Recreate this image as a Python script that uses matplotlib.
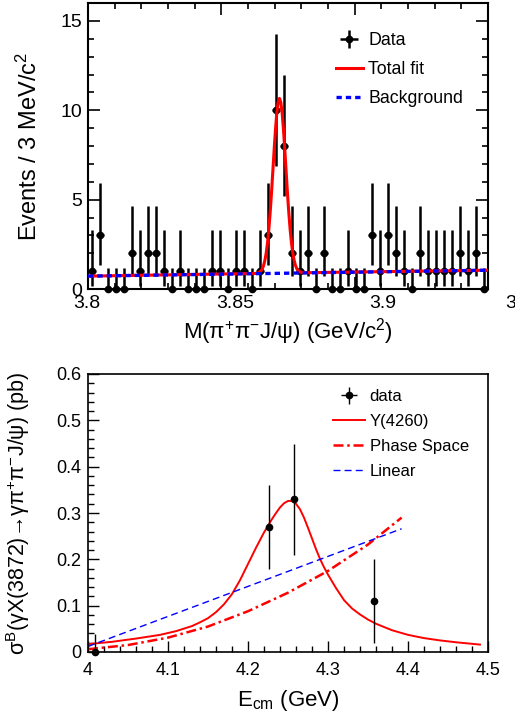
import numpy as np
import matplotlib.pyplot as plt
from matplotlib.ticker import MultipleLocator, NullFormatter
from matplotlib.transforms import blended_transform_factory

plt.rcParams['font.family'] = ['Liberation Sans', 'DejaVu Sans']
plt.rcParams['mathtext.fontset'] = 'custom'
plt.rcParams['mathtext.rm'] = 'Liberation Sans'
plt.rcParams['mathtext.it'] = 'Liberation Sans:italic'

# --- top panel: M(pi+ pi- J/psi) spectrum, 3 MeV bins from 3.80 to 3.95
mass_edges = np.linspace(3.80, 3.95, 51)
counts = [1, 3, 0, 0, 0, 2, 1, 2, 2, 1, 0, 1, 0, 0, 0, 1, 1, 0, 1, 1,
          0, 1, 3, 10, 8, 2, 1, 2, 0, 2, 0, 0, 1, 0, 0, 3, 1, 3, 2, 1,
          0, 2, 1, 1, 1, 1, 2, 1, 2, 0]
# poisson error bars, by count
err_low = {0: 0.0, 1: 0.83, 2: 1.29, 3: 1.63, 8: 2.77, 10: 3.11}
err_high = {0: 1.15, 1: 2.30, 2: 2.64, 3: 2.92, 8: 3.98, 10: 4.27}

fit_x = [3.800, 3.8628, 3.8638, 3.8648, 3.8653, 3.8658, 3.8663, 3.8668, 3.8673,
         3.8678, 3.8683, 3.8688, 3.8693, 3.8698, 3.8703, 3.8708, 3.8713, 3.8718,
         3.8723, 3.8728, 3.8733, 3.8738, 3.8743, 3.8748, 3.8753, 3.8758, 3.8763,
         3.8768, 3.8773, 3.8778, 3.8783, 3.8788, 3.8798, 3.8808, 3.950]
fit_y = [0.72, 0.87, 0.90, 1.00, 1.11, 1.29, 1.58, 1.99, 2.56,
         3.31, 4.25, 5.35, 6.56, 7.78, 8.91, 9.85, 10.45, 10.66,
         10.45, 9.85, 8.92, 7.79, 6.57, 5.36, 4.27, 3.33, 2.58,
         2.01, 1.60, 1.32, 1.14, 1.03, 0.94, 0.91, 1.05]
bkg_x = [3.80, 3.95]
bkg_y = [0.72, 1.05]

# --- bottom panel: cross section vs E_cm
ecm = [4.009, 4.226, 4.258, 4.358]
xsec = [0.0, 0.27, 0.33, 0.11]
xsec_dn = [0.0, 0.09, 0.12, 0.09]
xsec_up = [0.038, 0.09, 0.12, 0.09]

y4260_x = [4.00, 4.03, 4.06, 4.09, 4.11, 4.13, 4.14, 4.15, 4.16, 4.17,
           4.18, 4.19, 4.20, 4.21, 4.22, 4.23, 4.235, 4.24, 4.245, 4.25,
           4.255, 4.26, 4.265, 4.27, 4.275, 4.28, 4.285, 4.29, 4.295, 4.30,
           4.31, 4.32, 4.33, 4.34, 4.35, 4.36, 4.37, 4.38, 4.39, 4.40,
           4.42, 4.44, 4.46, 4.49]
y4260_y = [0.017, 0.022, 0.029, 0.037, 0.045, 0.056, 0.064, 0.073, 0.086, 0.103,
           0.125, 0.155, 0.190, 0.225, 0.258, 0.287, 0.300, 0.312, 0.321, 0.326,
           0.326, 0.320, 0.308, 0.290, 0.268, 0.245, 0.222, 0.201, 0.183, 0.167,
           0.138, 0.112, 0.094, 0.081, 0.070, 0.061, 0.054, 0.047, 0.042, 0.037,
           0.030, 0.025, 0.021, 0.016]
phsp_x = [4.00, 4.05, 4.10, 4.15, 4.20, 4.25, 4.30, 4.35, 4.392]
phsp_y = [0.006, 0.015, 0.031, 0.055, 0.088, 0.128, 0.175, 0.232, 0.290]
lin_x = [4.00, 4.392]
lin_y = [0.012, 0.266]

fig = plt.figure(figsize=(5.15, 7.11), dpi=100)
ax1 = fig.add_axes([88/515, 1-289/711, 400/515, 286/711])
ax2 = fig.add_axes([88/515, 1-652/711, 400/515, 278/711])

# top panel
centers = 0.5*(mass_edges[1:] + mass_edges[:-1])
half_bin = 0.5*(mass_edges[1] - mass_edges[0])
lo = [err_low[c] for c in counts]
hi = [err_high[c] for c in counts]
ax1.errorbar(centers, counts, xerr=half_bin, yerr=[lo, hi], fmt='o', ms=4.5,
             color='black', elinewidth=1.8, capsize=0, clip_on=False,
             label='Data', zorder=2)
ax1.plot(fit_x, fit_y, color='red', lw=2.2, label='Total fit', zorder=3)
ax1.plot(bkg_x, bkg_y, color='blue', lw=2.4, dashes=(1.6, 1.2),
         label='Background', zorder=4)

ax1.set_xlim(3.80, 3.95)
ax1.set_ylim(0, 16)
ax1.xaxis.set_major_locator(MultipleLocator(0.05))
ax1.xaxis.set_minor_locator(MultipleLocator(0.01))
ax1.yaxis.set_major_locator(MultipleLocator(5))
ax1.yaxis.set_minor_locator(MultipleLocator(1))
ax1.xaxis.set_major_formatter(NullFormatter())
ax1.tick_params(which='both', direction='in', top=True, right=True, width=1.2)
ax1.tick_params(which='major', length=8.5, labelsize=14, pad=4)
ax1.tick_params(which='minor', length=4.5)
for s in ax1.spines.values():
    s.set_linewidth(1.5)

# x tick labels sit a bit right of their ticks in the original
trans = blended_transform_factory(ax1.transData, ax1.transAxes)
for xpos, txt in zip([3.7995, 3.8551, 3.9106, 3.9635], ['3.8', '3.85', '3.9', '3.95']):
    ax1.text(xpos, -0.02, txt, transform=trans, ha='center', va='top',
             fontsize=14, clip_on=False)

ax1.set_xlabel('M(π$^{+}$π$^{-}$J/ψ) (GeV/c$^{2}$)', fontsize=16)
ax1.xaxis.set_label_coords(0.5, -0.095)
ax1.set_ylabel('Events / 3 MeV/c$^{2}$', fontsize=17)
ax1.yaxis.set_label_coords(-0.115, 0.5)

h, l = ax1.get_legend_handles_labels()
ax1.legend([h[2], h[0], h[1]], [l[2], l[0], l[1]], loc='upper left',
           bbox_to_anchor=(0.58, 0.955), frameon=False, fontsize=12.8,
           handlelength=1.5, handletextpad=0.3, labelspacing=0.68)

# bottom panel
ax2.errorbar(ecm, xsec, yerr=[xsec_dn, xsec_up], fmt='o', ms=4.5, color='black',
             elinewidth=1.0, capsize=0, clip_on=False, zorder=4)
ax2.plot(y4260_x, y4260_y, color='red', lw=1.4, label='Y(4260)')
ax2.plot(phsp_x, phsp_y, color='red', lw=1.8, dashes=(4, 1.5, 1, 1.5),
         label='Phase Space')
ax2.plot(lin_x, lin_y, color='blue', lw=1.0, dashes=(5, 3), label='Linear')
ax2.errorbar([np.nan], [np.nan], xerr=[1], yerr=[1], fmt='o', ms=4.5,
             color='black', elinewidth=1.0, capsize=0, label='data')

ax2.set_xlim(4.0, 4.5)
ax2.set_ylim(0, 0.6)
ax2.xaxis.set_major_locator(MultipleLocator(0.1))
ax2.xaxis.set_minor_locator(MultipleLocator(0.02))
ax2.yaxis.set_major_locator(MultipleLocator(0.1))
ax2.yaxis.set_minor_locator(MultipleLocator(0.02))
ax2.xaxis.set_major_formatter(lambda v, p: f'{v:g}')
ax2.yaxis.set_major_formatter(lambda v, p: f'{v:g}')
ax2.tick_params(which='both', direction='in', width=1.0)
ax2.tick_params(which='major', length=8, labelsize=13, pad=7)
ax2.tick_params(which='minor', length=4)
ax2.tick_params(axis='y', which='major', pad=5)
for s in ax2.spines.values():
    s.set_linewidth(1.2)

ax2.set_xlabel('E$_{\\mathrm{cm}}$ (GeV)', fontsize=16)
ax2.xaxis.set_label_coords(0.5, -0.128)
ax2.set_ylabel('σ$^{\\mathrm{B}}$(γX(3872)→γπ$^{+}$π$^{-}$J/ψ) (pb)', fontsize=15.5)
ax2.yaxis.set_label_coords(-0.14, 0.5)

h, l = ax2.get_legend_handles_labels()
order = [3, 0, 1, 2]
ax2.legend([h[i] for i in order], [l[i] for i in order], loc='upper left',
           bbox_to_anchor=(0.575, 1.0), frameon=False, fontsize=12,
           handlelength=1.9, handletextpad=0.3, labelspacing=0.6)

fig.savefig('out.png', dpi=100)
